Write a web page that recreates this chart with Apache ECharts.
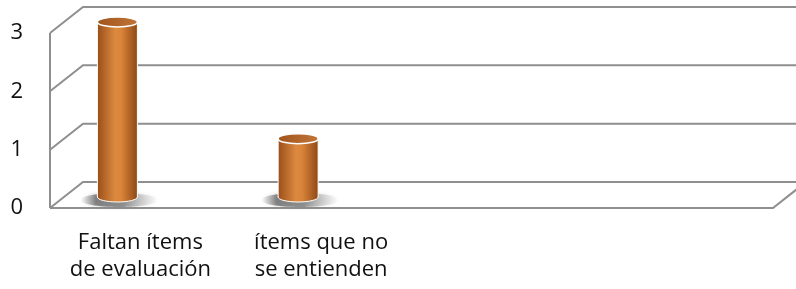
<!DOCTYPE html>
<html>
<head>
<meta charset="utf-8">
<script src="https://cdn.jsdelivr.net/npm/echarts@6/dist/echarts.min.js"></script>
<style>
  html, body { margin: 0; padding: 0; background: #fff; }
  #chart { width: 796px; height: 289px; }
</style>
</head>
<body>
<div id="chart"></div>
<script>
var categories = ['Faltan ítems\nde evaluación', 'ítems que no\nse entienden', '', ''];
var values = [3, 1];
var yTicks = [0, 1, 2, 3];

// depth of the 3d box (back wall offset) and bar placement inside it
var DEPTH_X = 33, DEPTH_Y = -26;
var BAR_DX = -23, BAR_DY = -11, BAR_W = 40;

var chart = echarts.init(document.getElementById('chart'));

function frameItem(params, api) {
    var cs = params.coordSys;
    var v = api.value(0);
    var y = api.coord([0, v])[1];
    var x0 = cs.x, x1 = cs.x + cs.width;
    var style = { stroke: '#8f8f8f', lineWidth: 2, fill: null };
    var kids = [{
        type: 'polyline',
        shape: { points: [[x0, y], [x0 + DEPTH_X, y + DEPTH_Y], [x1 + DEPTH_X + 40, y + DEPTH_Y]] },
        style: style
    }];
    if (v === 0) {
        kids.push({
            type: 'polyline',
            shape: { points: [[x0, y], [x1, y], [x1 + DEPTH_X, y + DEPTH_Y]] },
            style: style
        });
    }
    if (v === yTicks[yTicks.length - 1]) {
        kids.push({
            type: 'line',
            shape: { x1: x0, y1: y, x2: x0, y2: api.coord([0, 0])[1] },
            style: style
        });
    }
    return { type: 'group', children: kids };
}

function cylinderItem(params, api) {
    var i = api.value(0), v = api.value(1);
    var base = api.coord([i, 0]);
    var top = api.coord([i, v]);
    var cx = base[0] + BAR_DX;
    var yb = base[1] + BAR_DY;
    var yt = top[1] + BAR_DY;
    var rx = BAR_W / 2, ry = 5;
    var body = new echarts.graphic.LinearGradient(0, 0, 1, 0, [
        { offset: 0, color: '#9a4f1a' },
        { offset: 0.45, color: '#dc8a40' },
        { offset: 0.6, color: '#d98438' },
        { offset: 1, color: '#8e4816' }
    ]);
    return {
        type: 'group',
        children: [
            {
                type: 'ellipse',
                shape: { cx: cx + 2, cy: yb + 3, rx: rx + 19, ry: ry + 2 },
                style: {
                    fill: new echarts.graphic.LinearGradient(0, 0, 1, 0, [
                        { offset: 0, color: 'rgba(140,140,140,0)' },
                        { offset: 0.2, color: 'rgba(100,100,100,0.75)' },
                        { offset: 0.55, color: 'rgba(110,110,110,0.7)' },
                        { offset: 1, color: 'rgba(170,170,170,0)' }
                    ]),
                    shadowBlur: 4,
                    shadowColor: 'rgba(120,120,120,0.5)'
                }
            },
            {
                type: 'ellipse',
                shape: { cx: cx, cy: yb, rx: rx, ry: ry },
                style: { fill: body, stroke: '#fff', lineWidth: 1 }
            },
            {
                type: 'rect',
                shape: { x: cx - rx, y: yt, width: BAR_W, height: yb - yt },
                style: { fill: body }
            },
            {
                type: 'line',
                shape: { x1: cx - rx, y1: yt, x2: cx - rx, y2: yb },
                style: { stroke: '#fff', lineWidth: 1 }
            },
            {
                type: 'line',
                shape: { x1: cx + rx, y1: yt, x2: cx + rx, y2: yb },
                style: { stroke: '#fff', lineWidth: 1 }
            },
            {
                type: 'ellipse',
                shape: { cx: cx, cy: yt, rx: rx, ry: ry },
                style: {
                    fill: new echarts.graphic.LinearGradient(0, 0, 1, 0, [
                        { offset: 0, color: '#a0551d' },
                        { offset: 1, color: '#c27538' }
                    ]),
                    stroke: '#fff',
                    lineWidth: 1.5
                }
            }
        ]
    };
}

option = {
    backgroundColor: '#ffffff',
    animation: false,
    grid: {
        left: 50,
        right: 23,
        top: 33,
        bottom: 81
    },
    xAxis: {
        type: 'category',
        data: categories,
        axisLine: { show: false },
        axisTick: { show: false },
        splitLine: { show: false },
        axisLabel: {
            interval: 0,
            margin: 21,
            fontFamily: 'Open Sans',
            fontSize: 22,
            lineHeight: 27,
            color: '#111'
        }
    },
    yAxis: {
        type: 'value',
        min: 0,
        max: 3,
        interval: 1,
        axisLine: { show: false },
        axisTick: { show: false },
        splitLine: { show: false },
        axisLabel: {
            margin: 27,
            fontFamily: 'Open Sans',
            fontSize: 22,
            color: '#111'
        }
    },
    series: [
        {
            type: 'custom',
            name: 'frame',
            clip: false,
            silent: true,
            renderItem: frameItem,
            encode: { y: 0 },
            data: yTicks.map(function (t) { return [t]; }),
            z: 1
        },
        {
            type: 'custom',
            name: 'valores',
            clip: false,
            renderItem: cylinderItem,
            encode: { x: 0, y: 1 },
            data: values.map(function (v, i) { return [i, v]; }),
            z: 2
        }
    ]
};

chart.setOption(option);
</script>
</body>
</html>
